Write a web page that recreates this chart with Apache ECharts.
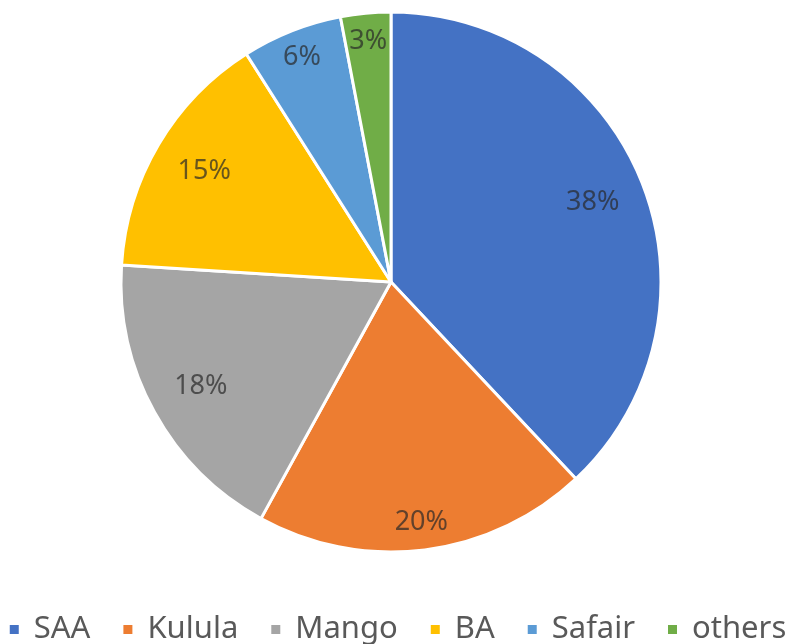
<!DOCTYPE html>
<html>
<head>
<meta charset="utf-8">
<script src="https://cdn.jsdelivr.net/npm/echarts@6/dist/echarts.min.js"></script>
<style>
  html, body { margin: 0; padding: 0; background: #fff; }
  #chart { width: 794px; height: 644px; }
</style>
</head>
<body>
<div id="chart"></div>
<script>
// 데이터
var airlines = ['SAA', 'Kulula', 'Mango', 'BA', 'Safair', 'others'];
var shares = [38, 20, 18, 15, 6, 3];
var colors = ['#4472C4', '#ED7D31', '#A5A5A5', '#FFC000', '#5B9BD5', '#70AD47'];
// 라벨 위치 (안쪽/바깥쪽)
var outerLabel = [false, true, false, false, true, true];

var chart = echarts.init(document.getElementById('chart'));

var pieData = [];
var innerLabels = [];
var outerLabels = [];
for (var i = 0; i < airlines.length; i++) {
  pieData.push({ name: airlines[i], value: shares[i], itemStyle: { color: colors[i] } });
  innerLabels.push({ name: airlines[i], value: shares[i], label: { show: !outerLabel[i] } });
  outerLabels.push({ name: airlines[i], value: shares[i], label: { show: outerLabel[i] } });
}

var labelStyle = {
  position: 'inside',
  formatter: '{c}%',
  fontFamily: 'Noto Sans',
  fontSize: 27,
  color: 'rgba(40,40,40,0.7)'
};
var hidden = { color: 'rgba(0,0,0,0)', borderWidth: 0 };

var option = {
  animation: false,
  legend: {
    top: 609,
    left: 'center',
    icon: 'rect',
    itemWidth: 11,
    itemHeight: 11,
    itemGap: 31,
    textStyle: {
      fontFamily: 'Noto Sans',
      fontSize: 31,
      color: '#595959',
      padding: [0, 0, 0, 9]
    },
    data: airlines
  },
  series: [
    {
      type: 'pie',
      center: [391, 282],
      radius: [0, 270],
      startAngle: 90,
      clockwise: true,
      label: { show: false },
      labelLine: { show: false },
      itemStyle: { borderColor: '#fff', borderWidth: 3 },
      data: pieData
    },
    {
      type: 'pie',
      center: [391, 282],
      radius: [158, 270],
      startAngle: 90,
      silent: true,
      legendHoverLink: false,
      itemStyle: hidden,
      label: labelStyle,
      labelLine: { show: false },
      data: innerLabels
    },
    {
      type: 'pie',
      center: [391, 282],
      radius: [208, 270],
      startAngle: 90,
      silent: true,
      legendHoverLink: false,
      itemStyle: hidden,
      label: labelStyle,
      labelLine: { show: false },
      data: outerLabels
    }
  ]
};

chart.setOption(option);
</script>
</body>
</html>
